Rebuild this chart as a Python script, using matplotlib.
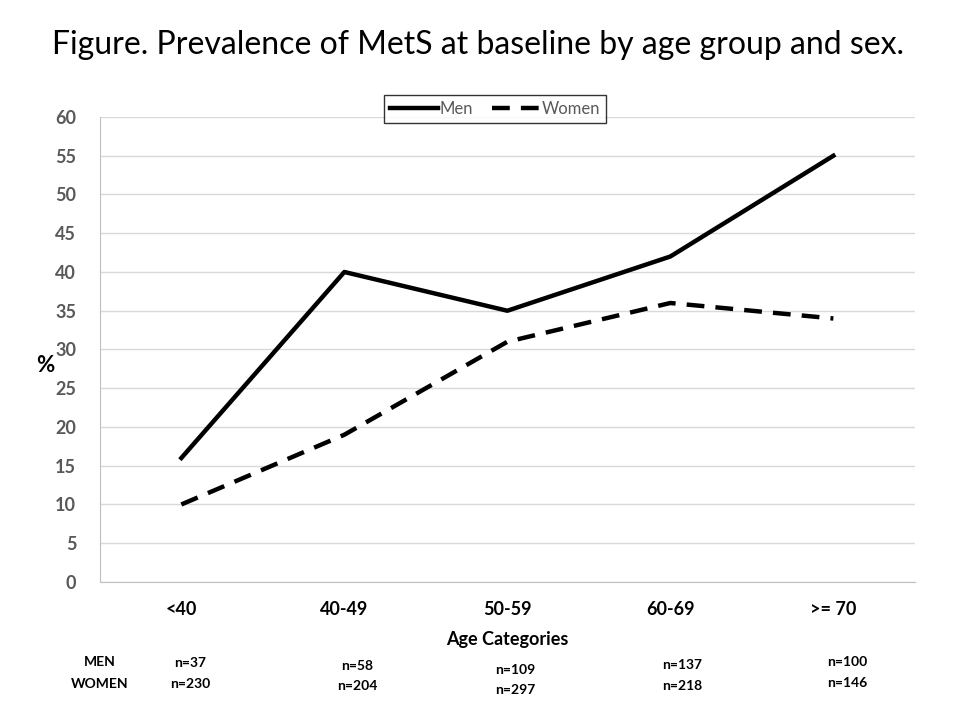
import matplotlib
matplotlib.use("Agg")
import matplotlib.pyplot as plt

categories = ["<40", "40-49", "50-59", "60-69", ">= 70"]
men = [16, 40, 35, 42, 55]
women = [10, 19, 31, 36, 34]
men_n = [37, 58, 109, 137, 100]
women_n = [230, 204, 297, 218, 146]
y_ticks = list(range(0, 61, 5))

plt.rcParams["font.family"] = ["Lato", "DejaVu Sans"]

fig = plt.figure(figsize=(9.6, 7.2), dpi=100)
ax = fig.add_axes([0.104, 0.1917, 0.849, 0.6458])

x = list(range(len(categories)))
ax.plot(x, men, color="black", lw=3.2, label="Men")
ax.plot(x, women, color="black", lw=3.2, dashes=(4, 2.5), label="Women")

ax.set_xlim(-0.5, len(categories) - 0.5)
ax.set_ylim(0, 60)
ax.set_yticks(y_ticks)
ax.set_xticks(x)
ax.set_xticklabels(categories, fontsize=13, fontweight="bold")
ax.tick_params(axis="y", length=0, pad=17, labelsize=13, labelcolor="#595959")
ax.tick_params(axis="x", length=0, pad=14)
for lbl in ax.get_yticklabels():
    lbl.set_fontweight("bold")

ax.grid(axis="y", color="#d9d9d9", lw=1)
ax.set_axisbelow(True)
for side in ["top", "right"]:
    ax.spines[side].set_visible(False)
ax.spines["left"].set_color("#bfbfbf")
ax.spines["bottom"].set_color("#bfbfbf")

ax.set_xlabel("Age Categories", fontsize=13, fontweight="bold", labelpad=9)
fig.text(0.047, 0.493, "%", fontsize=16, fontweight="bold", ha="center", va="center")

leg = ax.legend(loc="upper center", bbox_to_anchor=(0.485, 1.065), ncol=2, frameon=True,
                fancybox=False, edgecolor="black", fontsize=12, handlelength=2.9,
                columnspacing=1.1, borderpad=0.35, handletextpad=0.1)
leg.get_frame().set_linewidth(1)
for t in leg.get_texts():
    t.set_color("#595959")

fig.text(0.498, 0.937, "Figure. Prevalence of MetS at baseline by age group and sex.",
         fontsize=23, ha="center", va="center")

# sample sizes under the categories
fig.text(0.104, 0.080, "MEN", fontsize=10, fontweight="bold", ha="center", va="center")
fig.text(0.104, 0.050, "WOMEN", fontsize=10, fontweight="bold", ha="center", va="center")
col_x = [0.198, 0.372, 0.537, 0.711, 0.883]
row_y = [(0.079, 0.050), (0.075, 0.047), (0.070, 0.042), (0.076, 0.047), (0.080, 0.052)]
for cx, (ym, yw), nm, nw in zip(col_x, row_y, men_n, women_n):
    fig.text(cx, ym, f"n={nm}", fontsize=10, fontweight="bold", ha="center", va="center")
    fig.text(cx, yw, f"n={nw}", fontsize=10, fontweight="bold", ha="center", va="center")

fig.savefig("out.png", dpi=100)
